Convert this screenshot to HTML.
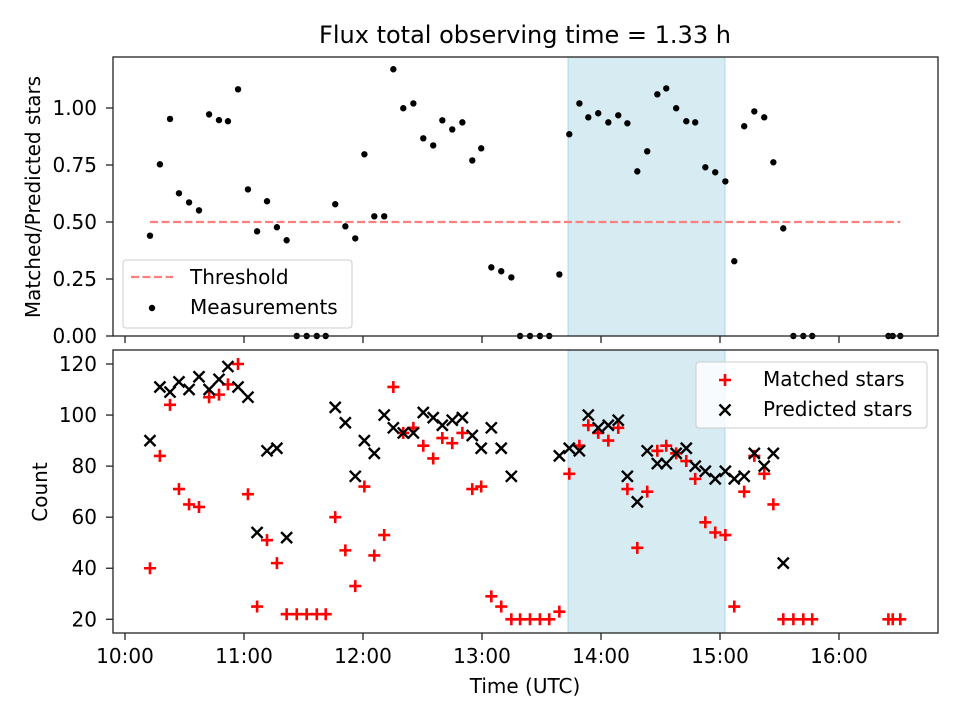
<!DOCTYPE html>
<html><head><meta charset="utf-8"><style>
html,body{margin:0;padding:0;background:#fff;}
svg{display:block;font-family:"DejaVu Sans","Liberation Sans",sans-serif;}
</style></head><body>
<svg id="chart" width="960" height="720" viewBox="0 0 960 720">
<rect width="960" height="720" fill="#fff"/>
<text x="525" y="43" font-size="24" text-anchor="middle" fill="#000">Flux total observing time = 1.33 h</text>
<g id="top"></g>
<g id="bot"></g>
</svg>
<script>
// minutes after 10:00 UTC
const times = [12.6,17.6,22.7,27.2,32.3,37.3,42.4,47.4,51.9,57,62,66.6,71.6,76.6,81.5,86.6,91.6,96.7,101.2,106,111.1,116.1,120.7,125.7,130.7,135.3,140.3,145.4,150.4,155.4,160,165,170.1,175.1,179.6,184.7,189.7,194.8,199.2,204.2,209.2,213.9,219,224,229.1,233.6,238.6,243.7,248.7,253.3,258.3,263.3,268.4,272.9,277.9,283,287.5,292.6,297.6,302.7,307.2,312.2,317.3,322.3,326.9,331.9,337,342,346.5,384.9,387.1,390.9];
const ratio = [0.44,0.753,0.952,0.626,0.586,0.551,0.972,0.947,0.942,1.082,0.643,0.459,0.591,0.477,0.42,0,0,0,0,0.578,0.481,0.428,0.797,0.525,0.525,1.17,0.999,1.02,0.867,0.836,0.946,0.906,0.937,0.77,0.823,0.301,0.284,0.257,0,0,0,0,0.27,0.885,1.02,0.959,0.977,0.937,0.968,0.933,0.722,0.81,1.06,1.086,0.999,0.942,0.937,0.74,0.718,0.678,0.328,0.92,0.985,0.959,0.762,0.472,0,0,0,0,0,0];
const matched = [40,84,104,71,65,64,107,108,112,120,69,25,51,42,22,22,22,22,22,60,47,33,72,45,53,111,93,95,88,83,91,89,93,71,72,29,25,20,20,20,20,20,23,77,88,96,93,90,95,71,48,70,86,88,85,82,75,58,54,53,25,70,84,77,65,20,20,20,20,20,20,20];
const predicted = [90,111,109,113,110,115,110,114,119,111,107,54,86,87,52,null,null,null,null,103,97,76,90,85,100,95,93,93,101,99,96,98,99,92,87,95,87,76,null,null,null,null,84,87,86,100,95,96,98,76,66,86,81,81,85,87,80,78,75,78,75,76,85,80,85,42,null,null,null,null,null,null];
const threshold = 0.5;
const shadeRange = [223.4, 302.5];
const xTickLabels = ["10:00","11:00","12:00","13:00","14:00","15:00","16:00"];
const xTickValues = [0,60,120,180,240,300,360];
const topTicks = [0,0.25,0.5,0.75,1.0];
const topTickLabels = ["0.00","0.25","0.50","0.75","1.00"];
const botTicks = [20,40,60,80,100,120];

const NS="http://www.w3.org/2000/svg";
const L=113,R=938;
const xs=m=>125+m*119/60;
const yTop=v=>336-228*v;
const yBot=v=>619.3-(v-20)*2.553;
function mk(tag,attrs,parent){const e=document.createElementNS(NS,tag);for(const k in attrs)e.setAttribute(k,attrs[k]);parent.appendChild(e);return e;}

function panel(g,top,bottom,yf,ticks,labels,showX){
  const s=mk('rect',{x:xs(shadeRange[0]),y:top,width:xs(shadeRange[1])-xs(shadeRange[0]),height:bottom-top,fill:'#add8e6','fill-opacity':0.5,stroke:'#add8e6','stroke-width':1},g);
  
  
  ticks.forEach((t,i)=>{
    const y=yf(t);
    const tl=mk('line',{x1:L-7,x2:L,y1:y,y2:y,stroke:'#222','stroke-width':1.3},g);
    
    
    const tx=mk('text',{x:L-16,y:y+7,'font-size':20,'text-anchor':'end'},g);
    tx.textContent=labels[i];
    
    
  });
  xTickValues.forEach((t,i)=>{
    const x=xs(t);
    const tl=mk('line',{x1:x,x2:x,y1:bottom,y2:bottom+7,stroke:'#222','stroke-width':1.3},g);
    
    
    if(showX){
      const tx=mk('text',{x:x,y:bottom+30,'font-size':20,'text-anchor':'middle'},g);
      tx.textContent=xTickLabels[i];
      
      
    }
  });
}
const gt=document.getElementById('top'), gb=document.getElementById('bot');
panel(gt,57,336,yTop,topTicks,topTickLabels,false);
panel(gb,350,633,yBot,botTicks,botTicks.map(String),true);

const th=mk('line',{x1:xs(times[0]),x2:xs(times[times.length-1]),y1:yTop(threshold),y2:yTop(threshold),stroke:'#ff7f7f','stroke-width':2.2,'stroke-dasharray':'8,3.5'},gt);


times.forEach((t,i)=>{
  const c=mk('circle',{cx:xs(t),cy:yTop(ratio[i]),r:3.2,fill:'#000'},gt);
  
  
});
times.forEach((t,i)=>{
  if(matched[i]==null)return;
  const x=xs(t),y=yBot(matched[i]);
  const p=mk('path',{d:`M${x-6},${y}H${x+6}M${x},${y-6}V${y+6}`,stroke:'#ff0000','stroke-width':2.6,fill:'none'},gb);
  
  
});
times.forEach((t,i)=>{
  if(predicted[i]==null)return;
  const x=xs(t),y=yBot(predicted[i]);
  const p=mk('path',{d:`M${x-5.5},${y-5.5}L${x+5.5},${y+5.5}M${x-5.5},${y+5.5}L${x+5.5},${y-5.5}`,stroke:'#000','stroke-width':2.4,fill:'none'},gb);
  
  
});
[[gt,57,336],[gb,350,633]].forEach(([g,t,b])=>{
  const f=mk('rect',{x:L,y:t,width:R-L,height:b-t,fill:'none',stroke:'#222','stroke-width':1.3},g);
  
  
});
</script>
<svg style="position:absolute;left:0;top:0" width="960" height="720">
<text transform="translate(40,197) rotate(-90)" font-size="20" text-anchor="middle" font-family="DejaVu Sans, sans-serif">Matched/Predicted stars</text>
<text transform="translate(47,492) rotate(-90)" font-size="20" text-anchor="middle" font-family="DejaVu Sans, sans-serif">Count</text>
<text x="525" y="693" font-size="20" text-anchor="middle" font-family="DejaVu Sans, sans-serif">Time (UTC)</text>
<g font-family="DejaVu Sans, sans-serif">
<rect x="123" y="260" width="229" height="68" rx="3" fill="#fff" fill-opacity="0.8" stroke="#ccc"/>
<line x1="131" y1="277" x2="173" y2="277" stroke="#ff7f7f" stroke-width="2.2" stroke-dasharray="8,3.5"/>
<text x="190" y="284" font-size="20">Threshold</text>
<circle cx="152" cy="308" r="3.2" fill="#000"/>
<text x="190" y="314" font-size="20">Measurements</text>
</g>
<g font-family="DejaVu Sans, sans-serif">
<rect x="696" y="362" width="231" height="66" rx="3" fill="#fff" fill-opacity="0.8" stroke="#ccc"/>
<path d="M719,380H731M725,374V386" stroke="#f00" stroke-width="2.6"/>
<text x="763" y="386" font-size="20">Matched stars</text>
<path d="M719.5,404.5L730.5,415.5M719.5,415.5L730.5,404.5" stroke="#000" stroke-width="2.4"/>
<text x="763" y="416" font-size="20">Predicted stars</text>
</g>
</svg>
</body></html>
